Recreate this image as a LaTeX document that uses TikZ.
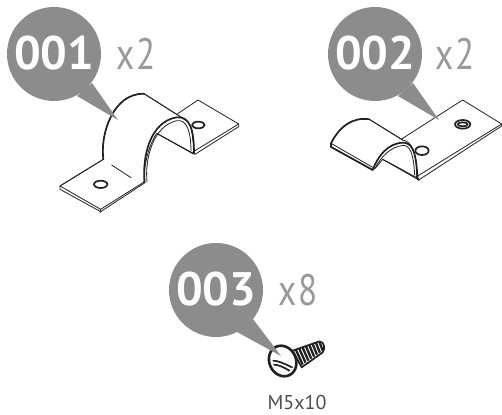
\documentclass[tikz,border=0pt]{standalone}
\usepackage{fontspec}
\setmainfont{PT Sans}
\usetikzlibrary{positioning,calc}

\tikzset{
  badge/.style={circle,fill=badgegray,minimum size=94pt,inner sep=0pt},
  badgetext/.style={text=white,font=\fontsize{47}{47}\selectfont\bfseries,inner sep=0pt},
  tail/.style={fill=badgegray},
  qty/.style={text=qtygray,font=\fontsize{44}{44}\selectfont,xscale=0.8,inner sep=0pt},
  thin part/.style={draw=inkgray,line width=0.8pt,line join=round,line cap=round},
  thick part/.style={draw=inkgray,line width=1.7pt,line join=round,line cap=round},
  sheet/.style={thin part,fill=white},
}
\definecolor{badgegray}{gray}{0.55}
\definecolor{qtygray}{gray}{0.6}
\definecolor{inkgray}{gray}{0.13}

\begin{document}
\begin{tikzpicture}[x=1pt,y=-1pt]
  \useasboundingbox (0,0) rectangle (502,414);

  % part 001
  \begin{scope}[scale=1/3]
    \draw[sheet] (535,340) -- (594,300) -- (716,372) -- (716,380) -- (585,463) -- (470,400) -- cycle;
    \draw[thin part] (580,455) -- (716,372);
    \draw[thick part,fill=white] (595,375) ellipse (19 and 10);
    \draw[sheet] (310,478) .. controls (300,400) and (340,280) .. (432,281) -- (560,362)
      .. controls (575,375) and (578,400) .. (580,460) -- (470,400)
      .. controls (445,440) and (432,490) .. (432,550) -- (302,635) -- (180,568) -- (180,558) -- cycle;
    \fill[white] (478,395) -- (582,455) -- (570,370) .. controls (540,345) and (490,360) .. (470,400) -- cycle;
    \draw[thin part] (470,400) -- (580,462);
    \draw[thin part] (310,478) -- (180,558) -- (302,628) -- (432,546);
    \draw[thin part] (302,628) -- (302,637);
    \draw[thin part] (335,495) -- (393,533);
    \draw[thick part,fill=white] (302,553) ellipse (20 and 11);
    \draw[thick part] (310,478) .. controls (300,400) and (340,280) .. (432,281);
    \draw[thin part] (432,281) -- (560,362);
    \draw[thick part] (434,548) .. controls (426,470) and (450,365) .. (530,352)
      .. controls (570,348) and (582,390) .. (582,460);
    \draw[thin part] (441,545) .. controls (434,480) and (458,378) .. (530,362)
      .. controls (562,358) and (572,395) .. (573,452);
  \end{scope}

  % part 002
  \begin{scope}[shift={(251,0)},scale=1/3]
    \draw[sheet] (455,415) -- (635,300) -- (752,372) -- (752,378) -- (503,540) -- (395,478) -- cycle;
    \draw[thin part] (500,528) -- (752,372);
    \draw[thick part,fill=white] (635,373) ellipse (23 and 13);
    \draw[thick part,fill=white] (635,373) ellipse (15 and 6);
    \draw[thick part,fill=white] (513,452) ellipse (20 and 13);
    \draw[sheet] (240,430) .. controls (265,380) and (305,350) .. (355,358) -- (455,420)
      .. controls (480,425) and (497,450) .. (497,530) -- (395,478)
      .. controls (385,490) and (375,505) .. (365,510) -- (240,440) -- cycle;
    \fill[white] (397,476) -- (494,530) -- (488,450) .. controls (465,425) and (415,440) .. (397,476) -- cycle;
    \draw[thin part] (395,478) -- (500,535);
    \draw[thin part] (240,430) -- (365,502);
    \draw[thick part] (240,430) .. controls (265,380) and (305,350) .. (355,358);
    \draw[thick part] (240,430) -- (240,441) -- (365,510);
    \draw[thin part] (355,358) -- (455,420);
    \draw[thick part] (365,510) .. controls (380,470) and (410,428) .. (458,428)
      .. controls (490,430) and (495,470) .. (500,535);
    \draw[thin part] (372,505) .. controls (388,475) and (415,440) .. (458,436)
      .. controls (482,438) and (488,475) .. (491,525);
    \draw[thick part] (500,535) -- (503,540);
  \end{scope}

  % part 003
  \begin{scope}[shift={(160,230)},scale=1/3]
    \draw[sheet,thick part] (398,362) -- (478,334) .. controls (494,335) and (497,358) .. (487,368) -- (425,412) -- cycle;
    \foreach \i in {0,...,7} {
      \draw[line width=2.3pt,draw=inkgray] ($(408,360)+(\i*10,-\i*3.6)$) -- ($(428,404)+(\i*8.6,-\i*6)$);
    }
    \draw[thick part,fill=white,line width=2.6pt,rotate around={25:(368,393)}] (368,393) ellipse (40 and 47);
    \draw[thick part] (340,392) .. controls (355,392) and (375,402) .. (396,412);
    \draw[thick part] (342,404) .. controls (355,404) and (372,412) .. (388,422);
  \end{scope}

  % callouts
  \node[badge] (badgeA) at (54,54) {};
  \node[badge] (badgeB) at (375,54) {};
  \node[badge] (badgeC) at (216,290) {};
  \coordinate (tipA) at (118,120);
  \coordinate (tipB) at (439,120);
  \coordinate (tipC) at (281,356);
  \fill[tail] (92,83) -- (tipA) -- (77,96) -- cycle;
  \fill[tail] (413,83) -- (tipB) -- (398,96) -- cycle;
  \fill[tail] (253,319) -- (tipC) -- (237,332) -- cycle;
  \node[badgetext] (labelA) at (54,53) {001};
  \node[badgetext] (labelB) at (375,53) {002};
  \node[badgetext] (labelC) at (216,289) {003};

  \node[qty] (qtyA) at (136,54) {x\kern3pt 2};
  \node[qty] (qtyB) at (455,54) {x\kern3pt 2};
  \node[qty] (qtyC) at (298,290) {x\kern3pt 8};
  \node[text=black!70,font=\fontsize{20}{20}\selectfont,inner sep=0pt] (sizeC) at (297,402) {M5x10};
\end{tikzpicture}
\end{document}
